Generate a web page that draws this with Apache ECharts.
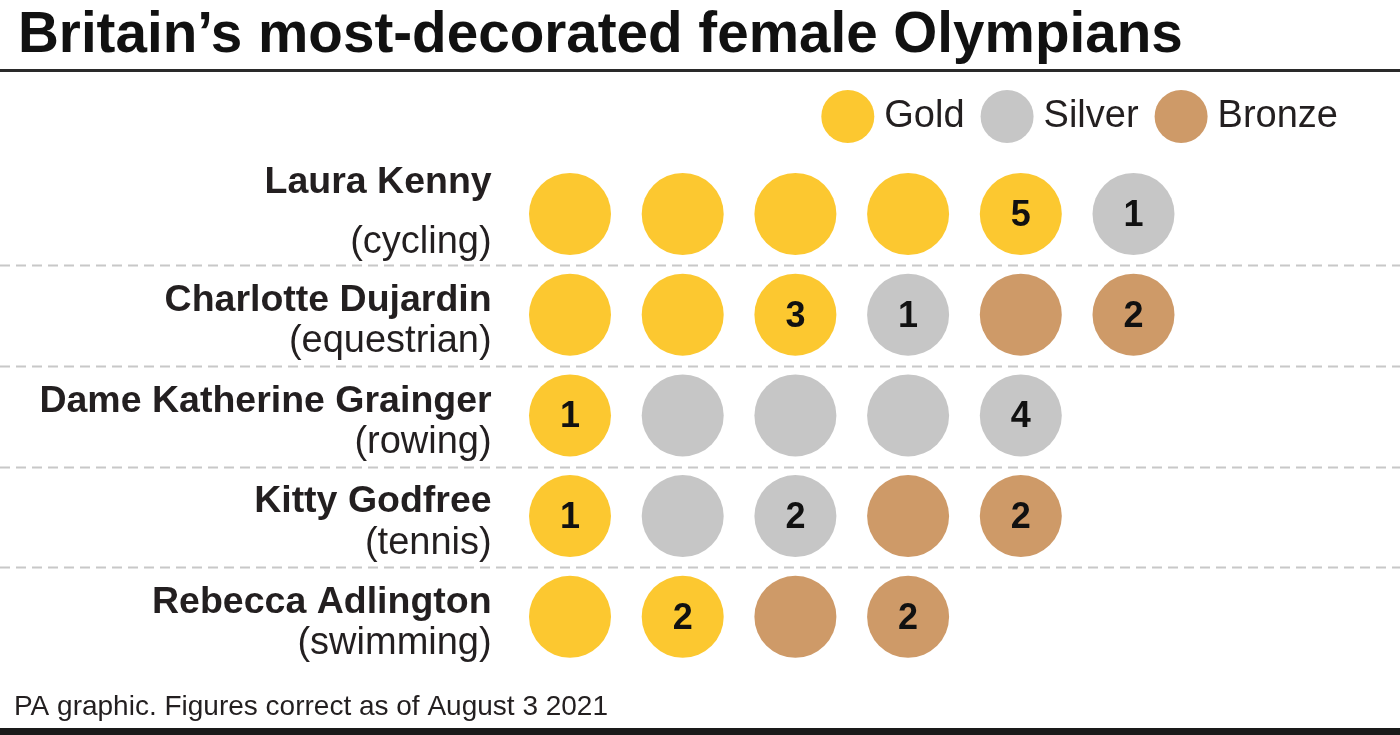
<!DOCTYPE html>
<html><head><meta charset="utf-8">
<script src="https://cdn.jsdelivr.net/npm/echarts@6/dist/echarts.min.js"></script>
<style>html,body{margin:0;padding:0;background:#fff}#c{width:1400px;height:735px}</style>
</head><body><div id="c"></div>
<script>
const athletes = ['Laura Kenny','Charlotte Dujardin','Dame Katherine Grainger','Kitty Godfree','Rebecca Adlington'];
const sports = ['(cycling)','(equestrian)','(rowing)','(tennis)','(swimming)'];
const gold = [5,3,1,1,2];
const silver = [1,1,4,2,0];
const bronze = [0,2,0,2,2];
const medalNames = ['Gold','Silver','Bronze'];
const medalColors = ['#FCC830','#C6C6C6','#CE9A68'];
const titleText = 'Britain\u2019s most-decorated female Olympians';
const footerText = 'PA graphic. Figures correct as of August 3 2021';

const FONT = '"Liberation Sans", Arial, Helvetica, sans-serif';
const TXT = '#231F20';

const counts = [gold, silver, bronze];
const seriesData = [[], [], []];
athletes.forEach((a, i) => {
  let pos = 0;
  counts.forEach((arr, m) => {
    for (let k = 0; k < arr[i]; k++) {
      seriesData[m].push({ value: [pos, a, arr[i]], isLast: k === arr[i] - 1 });
      pos++;
    }
  });
});

const chart = echarts.init(document.getElementById('c'), null, { renderer: 'canvas' });

const colStep = 112.7, col0 = 570;
const rowStep = 100.7, row0 = 214;
const gridLeft = col0 - colStep / 2;
const gridRight = 1400 - (gridLeft + colStep * 6);
const gridTop = row0 - rowStep / 2;
const gridBottom = 735 - (gridTop + rowStep * 5);

const option = {
  animation: false,
  backgroundColor: '#ffffff',
  textStyle: { fontFamily: FONT },
  grid: { left: gridLeft, right: gridRight, top: gridTop, bottom: gridBottom, containLabel: false },
  legend: {
    data: medalNames,
    icon: 'circle',
    itemWidth: 53, itemHeight: 53,
    itemGap: 16,
    right: 57, top: 85,
    textStyle: { fontSize: 38, color: TXT, fontFamily: FONT, padding: [0, 0, 0, 5] }
  },
  xAxis: { type: 'value', min: -0.5, max: 5.5, show: false },
  yAxis: {
    type: 'category', data: athletes, inverse: true,
    axisLine: { show: false }, axisTick: { show: false }, splitLine: { show: false },
    axisLabel: {
      margin: 22,
      align: 'right',
      padding: [10, 0, 0, 0],
      formatter: (v, i) => i === 0
        ? `{n0|${v}}\n{s0|${sports[i]}}`
        : `{n|${v}}\n{s|${sports[i]}}`,
      rich: {
        n: { fontSize: 37.5, fontWeight: 'bold', color: TXT, lineHeight: 44, fontFamily: FONT, align: 'right' },
        s: { fontSize: 38, color: TXT, lineHeight: 38, fontFamily: FONT, align: 'right' },
        n0: { fontSize: 37.5, fontWeight: 'bold', color: TXT, lineHeight: 47, fontFamily: FONT, align: 'right' },
        s0: { fontSize: 38, color: TXT, lineHeight: 73, fontFamily: FONT, align: 'right' }
      }
    }
  },
  series: medalNames.map((name, m) => ({
    name, type: 'scatter',
    symbol: 'circle', symbolSize: 82,
    itemStyle: { color: medalColors[m], opacity: 1 },
    label: {
      show: true, position: 'inside', offset: [0, 2],
      fontSize: 36, fontWeight: 'bold', color: '#111', fontFamily: FONT,
      formatter: p => p.data.isLast ? String(p.value[2]) : ''
    },
    emphasis: { disabled: true },
    data: seriesData[m]
  }))
};
chart.setOption(option);

const centers = athletes.map(a => chart.convertToPixel({ yAxisIndex: 0 }, a));
const graphics = [];
for (let i = 0; i < centers.length - 1; i++) {
  const y = Math.round((centers[i] + centers[i + 1]) / 2 + 1) + 0.5;
  graphics.push({
    type: 'line', silent: true,
    shape: { x1: 0, y1: y, x2: 1400, y2: y },
    style: { stroke: '#C8C8C8', lineWidth: 2, lineDash: [10, 6] }
  });
}
graphics.push(
  { type: 'text', x: 18, y: 36, style: { text: titleText, fontSize: 56.6, fontWeight: 'bold', fontFamily: FONT, fill: '#111', align: 'left', verticalAlign: 'middle' } },
  { type: 'rect', shape: { x: 0, y: 69, width: 1400, height: 3 }, style: { fill: '#2a2a2a' } },
  { type: 'text', x: 14, y: 707, style: { text: footerText, fontSize: 28, fontFamily: FONT, fill: TXT, align: 'left', verticalAlign: 'middle' } },
  { type: 'rect', shape: { x: 0, y: 728, width: 1400, height: 7 }, style: { fill: '#1a1a1a' } }
);
chart.setOption({ graphic: graphics });
</script>
</body></html>
